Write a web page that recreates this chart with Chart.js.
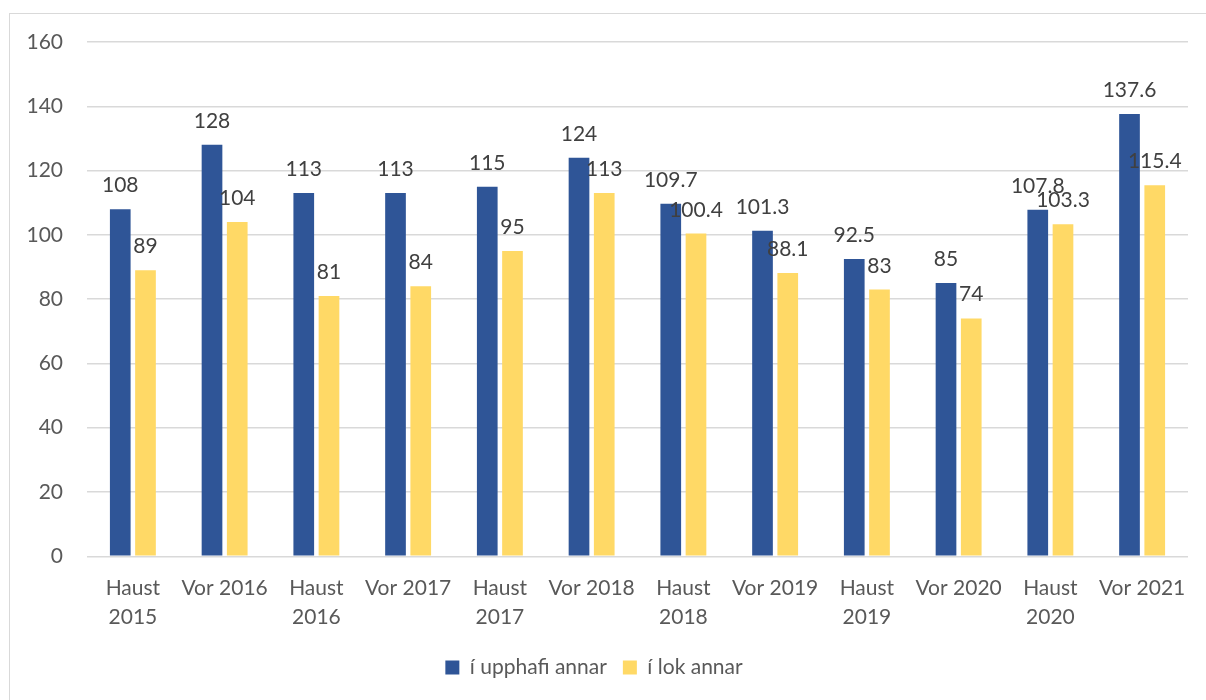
<!DOCTYPE html>
<html>
<head>
<meta charset="utf-8">
<script src="https://cdn.jsdelivr.net/npm/chart.js@4"></script>
<style>
  html, body { margin: 0; padding: 0; background: #fff; }
  #frame {
    position: absolute; left: 9px; top: 13px; width: 1210px; height: 700px;
    border: 1px solid #d9d9d9; box-sizing: border-box;
  }
  #wrap { position: absolute; left: 0; top: 0; width: 1206px; height: 700px; }
</style>
</head>
<body>
<div id="frame"></div>
<div id="wrap"><canvas id="chart"></canvas></div>
<script>
// Önn (haust / vor)
const categories = [
  ["Haust", "2015"], "Vor 2016", ["Haust", "2016"], "Vor 2017",
  ["Haust", "2017"], "Vor 2018", ["Haust", "2018"], "Vor 2019",
  ["Haust", "2019"], "Vor 2020", ["Haust", "2020"], "Vor 2021"
];
const upphafValues = [108, 128, 113, 113, 115, 124, 109.7, 101.3, 92.5, 85, 107.8, 137.6];
const lokValues = [89, 104, 81, 84, 95, 113, 100.4, 88.1, 83, 74, 103.3, 115.4];
const seriesNames = ["í upphafi annar", "í lok annar"];
const yTicks = [0, 20, 40, 60, 80, 100, 120, 140, 160];

const COLORS = {
  blue: "#2f5597",
  yellow: "#ffd966",
  grid: "#d9d9d9",
  tick: "#595959",
  label: "#404040"
};
const FONT = "Lato, 'Open Sans', sans-serif";

// gildi ofan á súlunum
const valueLabels = {
  id: "valueLabels",
  afterDatasetsDraw(chart) {
    const ctx = chart.ctx;
    ctx.save();
    ctx.font = "21px " + FONT;
    ctx.fillStyle = COLORS.label;
    ctx.textAlign = "center";
    ctx.textBaseline = "alphabetic";
    chart.data.datasets.forEach((ds, i) => {
      chart.getDatasetMeta(i).data.forEach((bar, j) => {
        ctx.fillText(String(ds.data[j]), bar.x, bar.y - 17);
      });
    });
    ctx.restore();
  }
};

new Chart(document.getElementById("chart"), {
  type: "bar",
  data: {
    labels: categories,
    datasets: [
      { label: seriesNames[0], data: upphafValues, backgroundColor: COLORS.blue },
      { label: seriesNames[1], data: lokValues, backgroundColor: COLORS.yellow }
    ]
  },
  options: {
    responsive: true,
    maintainAspectRatio: false,
    animation: false,
    datasets: { bar: { categoryPercentage: 0.55, barPercentage: 0.82 } },
    layout: { padding: { top: 42, right: 18, bottom: 12, left: 0 } },
    plugins: {
      tooltip: { enabled: false },
      legend: {
        position: "bottom",
        labels: {
          boxWidth: 14, boxHeight: 14, padding: 16,
          color: COLORS.tick,
          font: { family: FONT, size: 21 }
        }
      }
    },
    scales: {
      x: {
        grid: { display: false },
        border: { display: false },
        ticks: {
          color: COLORS.tick, padding: 10, maxRotation: 0, autoSkip: false,
          font: { family: FONT, size: 21, lineHeight: 1.35 }
        }
      },
      y: {
        min: 0, max: 160,
        afterBuildTicks: (scale) => { scale.ticks = yTicks.map((v) => ({ value: v })); },
        afterFit: (scale) => { scale.width = 87; },
        grid: { color: COLORS.grid, lineWidth: 1.5, drawTicks: false },
        border: { display: false },
        ticks: {
          color: COLORS.tick, padding: 24,
          font: { family: FONT, size: 21 }
        }
      }
    }
  },
  plugins: [valueLabels]
});
</script>
</body>
</html>
